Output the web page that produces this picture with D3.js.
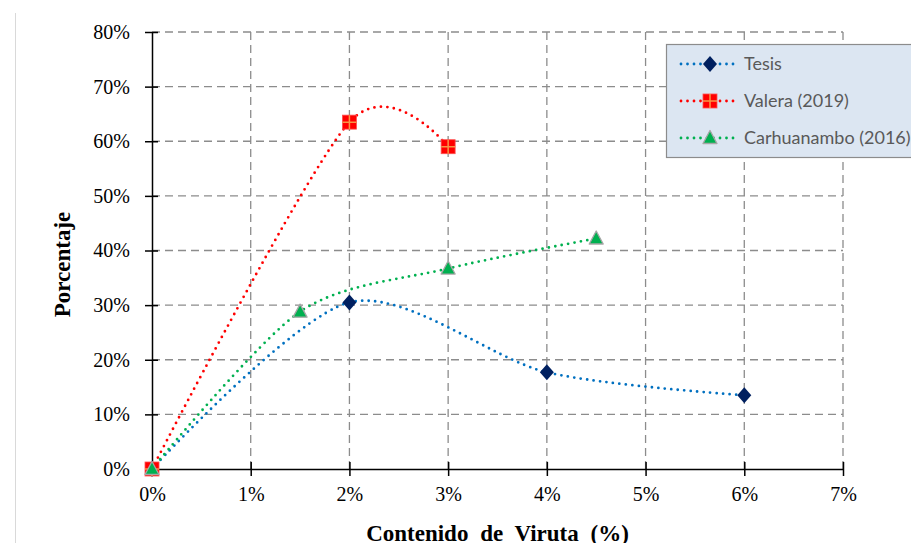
<!DOCTYPE html>
<html>
<head>
<meta charset="utf-8">
<script src="https://cdn.jsdelivr.net/npm/d3@7"></script>
<style>
  body { margin: 0; background: #fff; }
  svg { display: block; }
</style>
</head>
<body>
<div id="chart"></div>
<script>
// Chart data
const xTicks = [0, 1, 2, 3, 4, 5, 6, 7];
const yTicks = [0, 10, 20, 30, 40, 50, 60, 70, 80];

const tesisX = [0, 2, 4, 6];
const tesisY = [0, 30.5, 17.7, 13.5];

const valeraX = [0, 2, 3];
const valeraY = [0, 63.5, 59];

const carhuaX = [0, 1.5, 3, 4.5];
const carhuaY = [0, 28.8, 36.7, 42.2];

const width = 911, height = 543;
const margin = { top: 32, right: 68, bottom: 74, left: 152 };
const chartWidth = width - margin.left - margin.right;
const chartHeight = height - margin.top - margin.bottom;

const svg = d3.select('#chart')
    .append('svg')
    .attr('width', width)
    .attr('height', height);

// thin grey border on the left of the chart area
svg.append('line')
    .attr('x1', 15.5).attr('x2', 15.5)
    .attr('y1', 13).attr('y2', height)
    .attr('stroke', '#d9d9d9')
    .attr('stroke-width', 1);

const g = svg.append('g')
    .attr('transform', `translate(${margin.left},${margin.top})`);

const xScale = d3.scaleLinear().domain([0, 7]).range([0, chartWidth]);
const yScale = d3.scaleLinear().domain([0, 80]).range([chartHeight, 0]);

// Grid lines
g.append('g')
    .selectAll('line')
    .data(yTicks.filter(d => d > 0))
    .join('line')
    .attr('x1', 0).attr('x2', chartWidth)
    .attr('y1', d => yScale(d)).attr('y2', d => yScale(d))
    .attr('stroke', '#8c8c8c')
    .attr('stroke-width', 1.3)
    .attr('stroke-dasharray', '8,5');

g.append('g')
    .selectAll('line')
    .data(xTicks.filter(d => d > 0))
    .join('line')
    .attr('x1', d => xScale(d)).attr('x2', d => xScale(d))
    .attr('y1', 0).attr('y2', chartHeight)
    .attr('stroke', '#8c8c8c')
    .attr('stroke-width', 1.3)
    .attr('stroke-dasharray', '8,5');

// Axes
const xAxis = d3.axisBottom(xScale)
    .tickValues(xTicks)
    .tickSize(0)
    .tickPadding(18)
    .tickFormat(d => d + '%');

const yAxis = d3.axisLeft(yScale)
    .tickValues(yTicks)
    .tickSize(0)
    .tickPadding(22)
    .tickFormat(d => d + '%');

const xG = g.append('g')
    .attr('transform', `translate(0,${chartHeight})`)
    .call(xAxis);
const yG = g.append('g').call(yAxis);

[xG, yG].forEach(ax => {
    ax.select('.domain').attr('stroke', '#000').attr('stroke-width', 1.5);
    ax.selectAll('text')
        .attr('fill', '#000')
        .style('font-family', '"Liberation Serif", "Times New Roman", serif')
        .style('font-size', '20px');
});

// ticks crossing the axis lines
xG.selectAll('.tick').append('line')
    .attr('y1', -7).attr('y2', 7)
    .attr('stroke', '#000').attr('stroke-width', 1.5);
yG.selectAll('.tick').append('line')
    .attr('x1', -7).attr('x2', 6)
    .attr('stroke', '#000').attr('stroke-width', 1.5);

// Axis titles
svg.append('text')
    .attr('x', margin.left + xScale(3.5))
    .attr('y', 541)
    .attr('text-anchor', 'middle')
    .style('font-family', '"Liberation Serif", "Times New Roman", serif')
    .style('font-size', '23px')
    .style('font-weight', 'bold')
    .style('word-spacing', '6px')
    .text('Contenido de Viruta (%)');

svg.append('text')
    .attr('transform', `translate(70,${margin.top + yScale(40) + 14}) rotate(-90)`)
    .attr('text-anchor', 'middle')
    .style('font-family', '"Liberation Serif", "Times New Roman", serif')
    .style('font-size', '23px')
    .style('font-weight', 'bold')
    .text('Porcentaje');

// Series
const series = [
    { label: 'Tesis', xs: tesisX, ys: tesisY, line: '#0070c0', marker: 'diamond' },
    { label: 'Valera (2019)', xs: valeraX, ys: valeraY, line: '#ff0000', marker: 'square' },
    { label: 'Carhuanambo (2016)', xs: carhuaX, ys: carhuaY, line: '#00b050', marker: 'triangle' }
];

const line = d3.line()
    .x(d => xScale(d[0]))
    .y(d => yScale(d[1]))
    .curve(d3.curveCardinal.tension(0.15));

function drawMarker(sel, type) {
    if (type === 'diamond') {
        sel.append('path')
            .attr('d', 'M0,-8L7,0L0,8L-7,0Z')
            .attr('fill', '#002060');
    } else if (type === 'square') {
        sel.append('rect')
            .attr('x', -7).attr('y', -7)
            .attr('width', 14).attr('height', 14)
            .attr('fill', '#ff0000')
            .attr('stroke', '#ff5050').attr('stroke-width', 0.8);
        sel.append('path')
            .attr('d', 'M-7,0H7M0,-7V7')
            .attr('stroke', '#f79646')
            .attr('stroke-width', 1.5);
    } else {
        sel.append('path')
            .attr('d', 'M0,-7.5L7,5.5L-7,5.5Z')
            .attr('fill', '#00b050')
            .attr('stroke', '#a6a6a6')
            .attr('stroke-width', 1.3)
            .attr('stroke-linejoin', 'round');
    }
}

series.forEach(s => {
    const pts = s.xs.map((x, i) => [x, s.ys[i]]);
    g.append('path')
        .datum(pts)
        .attr('fill', 'none')
        .attr('stroke', s.line)
        .attr('stroke-width', 2.8)
        .attr('stroke-linecap', 'round')
        .attr('stroke-dasharray', '0,6.5')
        .attr('d', line);
});

// markers drawn on top of all lines
series.forEach(s => {
    s.xs.forEach((x, i) => {
        const m = g.append('g')
            .attr('transform', `translate(${xScale(x)},${yScale(s.ys[i])})`);
        drawMarker(m, s.marker);
    });
});

// Legend
const legend = svg.append('g').attr('transform', 'translate(666,44)');
legend.append('rect')
    .attr('x', 0.5).attr('y', 0.5)
    .attr('width', 260).attr('height', 113)
    .attr('fill', '#dce6f2')
    .attr('stroke', '#8c8c8c')
    .attr('stroke-width', 1.2);

series.forEach((s, i) => {
    const item = legend.append('g')
        .attr('transform', `translate(0,${20 + i * 37})`);
    item.append('line')
        .attr('x1', 15).attr('x2', 72)
        .attr('stroke', s.line)
        .attr('stroke-width', 2.8)
        .attr('stroke-linecap', 'round')
        .attr('stroke-dasharray', '0,6.5');
    const m = item.append('g').attr('transform', 'translate(44,0)');
    drawMarker(m, s.marker);
    item.append('text')
        .attr('x', 78)
        .attr('y', 6)
        .attr('fill', '#595959')
        .style('font-family', 'Lato, "Open Sans", sans-serif')
        .style('font-size', '18px')
        .text(s.label);
});
</script>
</body>
</html>
